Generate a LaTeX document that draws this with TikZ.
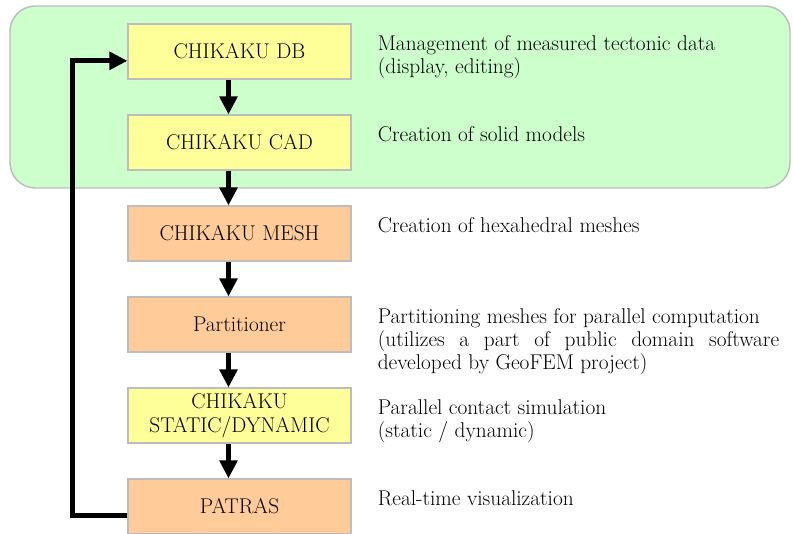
\documentclass[tikz,border=0pt]{standalone}
\usepackage{tikz}
\usetikzlibrary{arrows.meta, positioning}
\definecolor{toolyellow}{HTML}{FFFF99}
\definecolor{toolorange}{HTML}{FFCC99}
\definecolor{groupgreen}{HTML}{CCFFCC}
\definecolor{edgegray}{HTML}{BDBDBD}
\tikzstyle{tool} = [rectangle, minimum width=167pt, minimum height=41pt, align=center, draw=edgegray, line width=1.1pt, inner sep=2pt, font=\fontsize{16}{18}\selectfont]
\tikzstyle{chikaku} = [tool, fill=toolyellow]
\tikzstyle{helper} = [tool, fill=toolorange]
\tikzstyle{desc} = [text width=301pt, align=justify, inner sep=0pt, font=\fontsize{16}{17.5}\selectfont]
\tikzstyle{arrow} = [line width=4pt, -{Triangle[length=13.5pt, width=13pt]}]

\begin{document}
\begin{tikzpicture}[x=0.75pt, y=-0.75pt, node distance=68.25pt]
		\useasboundingbox (0,0) rectangle (793,534);
		\draw [draw=edgegray, fill=groupgreen, line width=1.1pt, rounded corners=19pt] (10,6) rectangle (790,188);

		\node (db) [chikaku] at (239.5,51.5) {CHIKAKU DB};
		\node (cad) [chikaku, below of=db] {CHIKAKU CAD};
		\node (mesh) [helper, below of=cad] {CHIKAKU MESH};
		\node (part) [helper, below of=mesh] {Partitioner};
		\node (solver) [chikaku, below of=part] {CHIKAKU\\STATIC/DYNAMIC};
		\node (patras) [helper, below of=solver] {PATRAS};

		\node (ddb) [desc, right=19.5pt of db, anchor=base west, yshift=1pt] {Management of measured tectonic data\\(display, editing)};
		\node (dcad) [desc, right=19.5pt of cad, anchor=base west, yshift=1pt] {Creation of solid models};
		\node (dmesh) [desc, right=19.5pt of mesh, anchor=base west, yshift=1pt] {Creation of hexahedral meshes};
		\node (dpart) [desc, right=19.5pt of part, anchor=base west, yshift=1pt] {Partitioning meshes for parallel computation\\(utilizes a part of public domain software\linebreak developed by GeoFEM project)};
		\node (dsolver) [desc, right=19.5pt of solver, anchor=base west, yshift=1pt] {Parallel contact simulation\\(static / dynamic)};
		\node (dpatras) [desc, right=19.5pt of patras, anchor=base west, yshift=1pt] {Real-time visualization};

		\draw [arrow] ([xshift=-8.25pt]db.south) -- ([xshift=-8.25pt]cad.north);
		\draw [arrow] ([xshift=-8.25pt]cad.south) -- ([xshift=-8.25pt]mesh.north);
		\draw [arrow] ([xshift=-8.25pt]mesh.south) -- ([xshift=-8.25pt]part.north);
		\draw [arrow] ([xshift=-8.25pt]part.south) -- ([xshift=-8.25pt]solver.north);
		\draw [arrow] ([xshift=-8.25pt]solver.south) -- ([xshift=-8.25pt]patras.north);
		\draw [arrow] ([yshift=-7pt]patras.west) -- ++(-41pt,0) |- ([yshift=-7pt]db.west);
	\end{tikzpicture}
\end{document}
